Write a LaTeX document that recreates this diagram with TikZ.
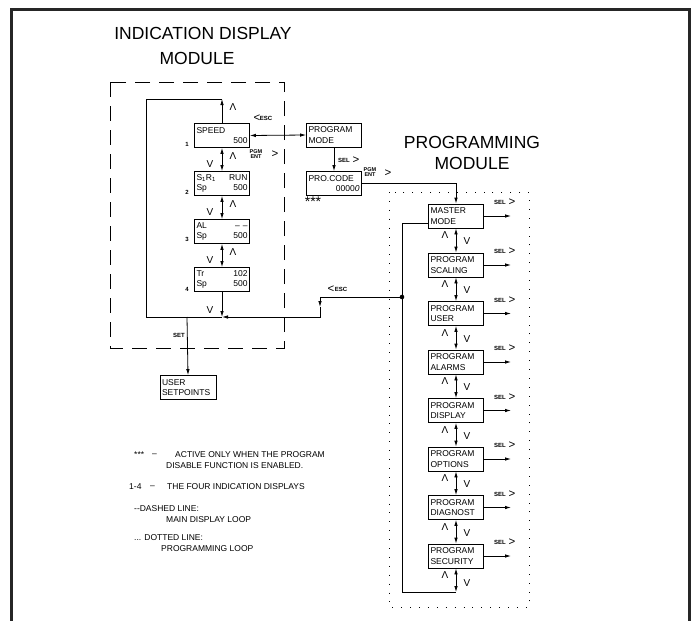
\documentclass[tikz,border=0pt]{standalone}
\usepackage{fontspec}
\setmainfont{Liberation Sans}
\usetikzlibrary{arrows.meta}
\begin{document}
\begin{tikzpicture}[x=1pt,y=-1pt,
  box/.style={draw,line width=0.8pt,minimum width=55pt,minimum height=24pt,text width=51pt,inner sep=2pt,align=left,font=\fontsize{8.5}{10.5}\selectfont},
  tip/.style={-{Latex[length=6pt,width=3.5pt]}},
  dtip/.style={{Latex[length=6pt,width=3.5pt]}-{Latex[length=6pt,width=3.5pt]}},
  ln/.style={line width=0.8pt},
  sm/.style={font=\fontsize{6}{6}\selectfont\bfseries,inner sep=0},
  key/.style={font=\fontsize{10}{10}\selectfont,inner sep=0},
  chev/.style={font=\fontsize{11.5}{11.5}\selectfont,inner sep=0},
  legend/.style={font=\fontsize{8.5}{10}\selectfont,inner sep=0,anchor=west},
  title/.style={font=\fontsize{17.5}{17.5}\selectfont,inner sep=0}
]
\useasboundingbox (0,0) rectangle (696,621);
% outer frame
\draw[line width=3pt,black!85] (11.5,630) -- (11.5,9) -- (689,9) -- (689,630);

% titles
\node[title] (t1) at (203,33) {INDICATION DISPLAY};
\node[title] (t2) at (197,58) {MODULE};
\node[title] (t3) at (472,142) {PROGRAMMING};
\node[title] (t4) at (472,163) {MODULE};

% module frames
\draw[line width=0.9pt,dash pattern=on 15pt off 9pt] (110,82) rectangle (284,348);
\draw[line width=0.9pt,dash pattern=on 0.9pt off 8pt] (389,192) rectangle (529,607);

% indication displays
\node[box] (speed) at (222,135.5) {SPEED\\\hspace*{\fill}500};
\node[box] (s1) at (222,183.5) {S\textsubscript{1}R\textsubscript{1}\hfill RUN\\Sp\hfill 500};
\node[box] (al) at (222,231.5) {AL\hfill – –\\Sp\hfill 500};
\node[box] (tr) at (222,279.5) {Tr\hfill 102\\Sp\hfill 500};
\node[sm] (n1) at (187,144) {1};
\node[sm] (n2) at (187,192) {2};
\node[sm] (n3) at (187,239) {3};
\node[sm] (n4) at (187,289) {4};

\draw[ln,dtip] (speed.south) -- (s1.north);
\draw[ln,dtip] (s1.south) -- (al.north);
\draw[ln,dtip] (al.south) -- (tr.north);
\foreach \a/\b in {speed/s1,s1/al,al/tr}{
  \node[key] at ([xshift=11pt,yshift=-8pt]\a.south) {Λ};
  \node[key] at ([xshift=-12pt,yshift=7pt]\b.north) {V};
}

% indication loop
\coordinate (ltop) at (222,99);
\coordinate (lcorner) at (146,99);
\coordinate (lbot) at (146,317);
\coordinate (lj) at (222,317);
\coordinate (setj) at (187,317);
\coordinate (escj) at (320,317);
\coordinate (escup) at (320,297);
\coordinate (escmid) at (320,307);
\coordinate (dot) at (402,297);
\draw[ln,tip] (speed.north) -- (ltop);
\draw[ln] (ltop) -- (lcorner) -- (lbot) -- (lj);
\draw[ln,tip] (tr.south) -- (lj);
\node[key] (up0) at (233,107) {Λ};
\node[key] (dn0) at (210,310) {V};

% ESC return from programming loop
\draw[ln,tip] (dot) -- (escup) -- (escmid);
\draw[ln,tip] (escmid) -- (escj) -- (lj);
\fill (dot) circle (2.3pt);
\node[chev] (escl2) at (331,289) {<};
\node[sm] (escl) at (341,289.5) {ESC};

% user setpoints
\node[box,text width=52pt] (us) at (188,387.5) {USER\\SETPOINTS};
\draw[ln,tip] (setj) -- (us.north);
\node[sm] (setl) at (179,335) {SET};

% program mode / pro.code
\node[box] (pm) at (334,135) {PROGRAM\\MODE};
\node[box] (pc) at (334,183.5) {PRO.CODE\\\hspace*{\fill}0000\textit{0}};
\draw[ln,dtip] (speed.east) -- (pm.west);
\node[chev] (escka) at (257,118) {<};
\node[sm] (esck) at (266,118.5) {ESC};
\node[sm,align=center,font=\fontsize{5.5}{5}\selectfont\bfseries] (pgm1) at (256,154) {PGM\\ENT};
\node[chev] (pgm1a) at (275,154) {>};
\draw[ln,tip] (pm.south) -- (pc.north);
\node[sm] (sel0) at (344,160) {SEL};
\node[chev] (sel0a) at (356,160) {>};
\node[font=\fontsize{14}{14}\selectfont,inner sep=0] (stars) at (313,202) {***};

% programming modules
\foreach \n/\y/\a/\b in {master/216/MASTER/MODE, scal/265/PROGRAM/SCALING, user/313.5/PROGRAM/USER, alarm/362/PROGRAM/ALARMS, disp/410.5/PROGRAM/DISPLAY, opt/459/PROGRAM/OPTIONS, diag/507.5/PROGRAM/DIAGNOST, sec/556/PROGRAM/SECURITY}{
  \node[box] (\n) at (456,\y) {\a\\\b};
  \coordinate (\n-out) at (511,\y);
  \draw[ln,tip] (\n.east) -- (\n-out);
  \node[sm] at (500,\y-13.5) {SEL};
  \node[chev] at (512,\y-13.5) {>};
}
\draw[ln,tip] (pc.east) -| (master.north);
\node[sm,align=center,font=\fontsize{5.5}{5}\selectfont\bfseries] (pgm2) at (370,172) {PGM\\ENT};
\node[chev] (pgm2a) at (388,173) {>};

\foreach \a/\b in {master/scal,scal/user,user/alarm,alarm/disp,disp/opt,opt/diag,diag/sec}{
  \draw[ln,dtip] (\a.south) -- (\b.north);
  \node[key] at ([xshift=-11pt,yshift=-7pt]\a.south) {Λ};
  \node[key] at ([xshift=11pt,yshift=-13pt]\a.south) {V};
}
\coordinate (pl2) at (402,592);
\coordinate (pl3) at (456,592);
\draw[ln] ([yshift=-7pt]master.west) -| (pl2) -- (pl3);
\draw[ln,dtip] (sec.south) -- (pl3);
\node[key] (upz) at (445,575) {Λ};
\node[key] (dnz) at (467,583) {V};

% legend
\node[legend] (lg1a) at (134,455) {***};
\node[legend] (lg1b) at (152,455) {–};
\node[legend] (lg1c) at (175,455) {ACTIVE ONLY WHEN THE PROGRAM};
\node[legend] (lg2) at (166,465.5) {DISABLE FUNCTION IS ENABLED.};
\node[legend] (lg3a) at (129,487) {1-4};
\node[legend] (lg3b) at (150,487) {–};
\node[legend] (lg3c) at (167,487) {THE FOUR INDICATION DISPLAYS};
\node[legend] (lg4) at (134,509) {-{}-DASHED LINE:};
\node[legend] (lg5) at (166,519.5) {MAIN DISPLAY LOOP};
\node[legend] (lg6) at (134,538) {... DOTTED LINE:};
\node[legend] (lg7) at (161,548.5) {PROGRAMMING LOOP};
\end{tikzpicture}
\end{document}
